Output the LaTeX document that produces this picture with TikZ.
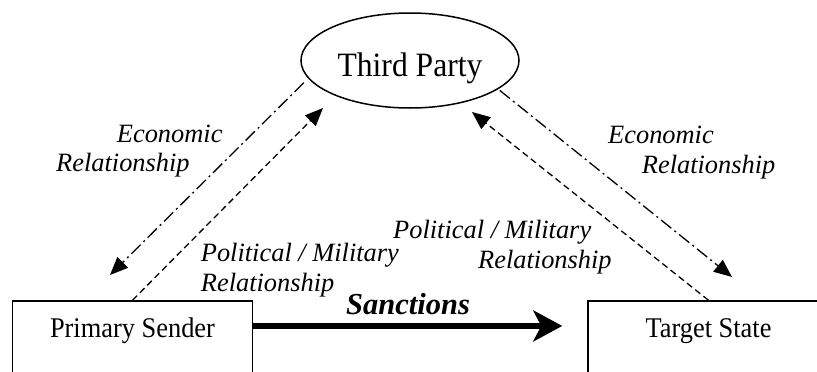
\documentclass[tikz,border=0pt]{standalone}
\usepackage{fontspec}
\setmainfont{Liberation Serif}
\usetikzlibrary{arrows.meta,shapes.geometric,calc}
\newcommand{\tallt}[1]{\scalebox{1}[1.08]{#1}}
\begin{document}
\begin{tikzpicture}[x=1pt,y=-1pt,
  party/.style={draw, ellipse, line width=1.5pt, minimum width=218pt, minimum height=95pt,
    inner sep=0pt, text height=31.4pt, text depth=0pt, font=\fontsize{31.6}{36}\selectfont},
  box/.style={draw, rectangle, line width=1.5pt, minimum width=240pt, inner xsep=0pt,
    inner ysep=0pt, text height=36pt, text depth=80pt, anchor=base,
    font=\fontsize{26.4}{30}\selectfont},
  lbl/.style={font=\itshape\fontsize{26.4}{29}\selectfont, inner sep=0pt, anchor=base west},
  sanc/.style={font=\bfseries\itshape\fontsize{30.5}{34}\selectfont, inner sep=0pt, anchor=base west},
  econ/.style={line width=1.3pt, dash pattern=on 13pt off 4pt on 2pt off 4pt,
    -{Triangle[length=18pt,width=15pt]}},
  pol/.style={line width=1.3pt, dash pattern=on 6.5pt off 4pt,
    -{Triangle[length=18pt,width=15pt]}},
  bigarrow/.style={line width=6pt, -{Stealth[length=29pt,width=31pt,inset=8pt]}}
]
\useasboundingbox (0,0) rectangle (817,372);
\clip (0,0) rectangle (817,372);

\node[party] (tp) at (410,60.5) {\tallt{Third Party}};
\node[box] (ps) at (132.5,337) {\tallt{Primary Sender}};
\node[box, minimum width=241pt] (ts) at (708.5,337) {\tallt{Target State}};

\coordinate (econL) at (110,275);
\coordinate (econR) at (732,277);
\coordinate (polL) at (323,108);
\coordinate (polR) at (472,112);

\draw[econ, shorten <=6pt] (tp.190) -- (econL);
\draw[econ, shorten <=2pt] (tp.342) -- (econR);
\draw[pol] (ps.north) -- (polL);
\draw[pol] (ts.north) -- (polR);

\draw[bigarrow, shorten >=25pt] ([yshift=-25.7pt]ps.north east) -- ([yshift=-25.7pt]ts.north west);

\node[lbl] (e1) at (116.7,142.7) {Economic};
\node[lbl] (e2) at (56,171.7) {Relationship};
\node[lbl] (p1) at (200.7,261.7) {Political / Military};
\node[lbl] (p2) at (200.7,291.7) {Relationship};
\node[lbl] (p3) at (393,238) {Political / Military};
\node[lbl] (p4) at (478,268) {Relationship};
\node[lbl] (e3) at (608,143.3) {Economic};
\node[lbl] (e4) at (641.7,173) {Relationship};
\node[sanc] (s) at (346,314.3) {Sanctions};
\end{tikzpicture}
\end{document}
